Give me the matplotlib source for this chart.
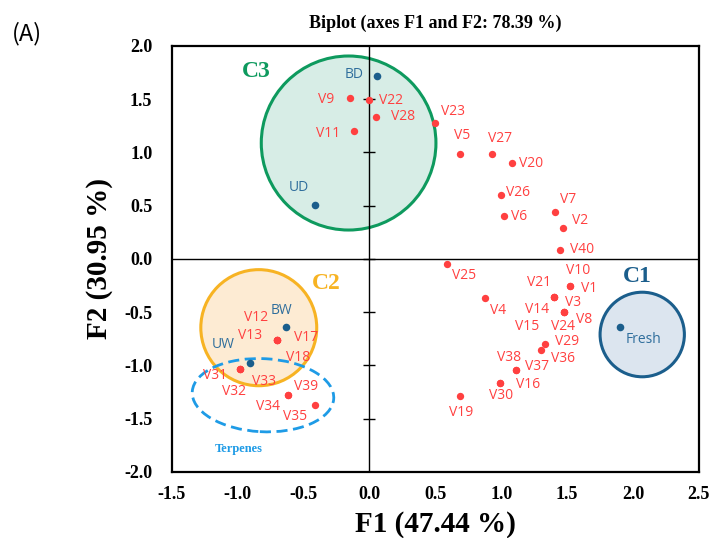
import matplotlib
matplotlib.use('Agg')
import matplotlib.pyplot as plt
from matplotlib.patches import Ellipse

# variables (red) and observations (blue) on F1/F2
var_names = ['V1', 'V2', 'V3', 'V4', 'V5', 'V6', 'V7', 'V8', 'V9', 'V10',
             'V11', 'V12', 'V13', 'V14', 'V15', 'V16', 'V17', 'V18', 'V19', 'V20',
             'V21', 'V22', 'V23', 'V24', 'V25', 'V26', 'V27', 'V28', 'V29', 'V30',
             'V31', 'V32', 'V33', 'V34', 'V35', 'V36', 'V37', 'V38', 'V39', 'V40']
var_f1 = [1.52, 1.47, 1.48, 0.88, 0.69, 1.02, 1.41, 1.48, -0.15, 1.52,
          -0.12, -0.70, -0.70, 1.40, 1.40, 0.99, -0.70, -0.70, 0.69, 1.08,
          1.40, 0.00, 0.50, 1.48, 0.59, 1.00, 0.93, 0.05, 1.33, 0.99,
          -0.98, -0.98, -0.98, -0.62, -0.41, 1.30, 1.11, 1.11, -0.62, 1.45]
var_f2 = [-0.25, 0.29, -0.50, -0.37, 0.99, 0.40, 0.44, -0.50, 1.51, -0.25,
          1.20, -0.76, -0.76, -0.36, -0.36, -1.16, -0.76, -0.76, -1.29, 0.90,
          -0.36, 1.49, 1.28, -0.50, -0.05, 0.60, 0.99, 1.33, -0.80, -1.16,
          -1.03, -1.03, -1.03, -1.28, -1.37, -0.85, -1.04, -1.04, -1.28, 0.08]

obs_names = ['BD', 'UD', 'BW', 'UW', 'Fresh']
obs_f1 = [0.06, -0.41, -0.63, -0.91, 1.90]
obs_f2 = [1.72, 0.51, -0.64, -0.98, -0.64]

xticks = [-1.5, -1.0, -0.5, 0.0, 0.5, 1.0, 1.5, 2.0, 2.5]
yticks = [-2.0, -1.5, -1.0, -0.5, 0.0, 0.5, 1.0, 1.5, 2.0]

# label placement: (dx, dy, ha) in pixels, dy downwards
lab_pos = {
    'V1': (11, 3, 'left'), 'V2': (9, -8, 'left'), 'V3': (1, -10, 'left'),
    'V4': (5, 12, 'left'), 'V5': (2, -18, 'center'), 'V6': (7, 0, 'left'),
    'V7': (5, -13, 'left'), 'V8': (12, 7, 'left'), 'V9': (-15, 1, 'right'),
    'V10': (-4, -15, 'left'), 'V11': (-13, 2, 'right'), 'V12': (-9, -22, 'right'),
    'V13': (-15, -4, 'right'), 'V14': (-5, 12, 'right'), 'V15': (-15, 29, 'right'),
    'V16': (16, 2, 'left'), 'V17': (17, -2, 'left'), 'V18': (9, 18, 'left'),
    'V19': (1, 16, 'center'), 'V20': (7, 0, 'left'), 'V21': (-3, -15, 'right'),
    'V22': (10, 0, 'left'), 'V23': (6, -11, 'left'), 'V24': (-1, 14, 'center'),
    'V25': (5, 11, 'left'), 'V26': (5, -3, 'left'), 'V27': (8, -15, 'center'),
    'V28': (15, -1, 'left'), 'V29': (10, -3, 'left'), 'V30': (1, 13, 'center'),
    'V31': (-13, 7, 'right'), 'V32': (-6, 23, 'center'), 'V33': (12, 13, 'left'),
    'V34': (-8, 11, 'right'), 'V35': (-8, 12, 'right'), 'V36': (10, 9, 'left'),
    'V37': (9, -3, 'left'), 'V38': (5, -12, 'right'), 'V39': (6, -9, 'left'),
    'V40': (10, -1, 'left'),
    'BD': (-14, -1, 'right'), 'UD': (-17, -17, 'center'), 'BW': (-5, -17, 'center'),
    'UW': (-15, -19, 'right'), 'Fresh': (6, 12, 'left'),
}

red = '#FF4040'
navy = '#1B5E8C'
serif = 'Liberation Serif'

fig = plt.figure(figsize=(7.13, 5.38), dpi=100)
ax = fig.add_axes([0.241, 0.1227, 0.739, 0.7918])

# clusters
ax.add_patch(Ellipse((-0.158, 1.089), 1.326, 1.634, facecolor='#D7EDE6',
                     edgecolor='#0E9A5E', lw=2.2, zorder=1))
ax.add_patch(Ellipse((-0.84, -0.645), 0.88, 1.09, facecolor='#FDEBD3',
                     edgecolor='#F7B323', lw=2.2, zorder=1))
ax.add_patch(Ellipse((2.071, -0.709), 0.64, 0.794, facecolor='#DCE5EF',
                     edgecolor=navy, lw=2.2, zorder=1))
ax.add_patch(Ellipse((-0.808, -1.279), 1.076, 0.686, angle=-4, facecolor='none',
                     edgecolor='#1E9BE6', lw=2.0, ls=(0, (4, 2)), zorder=4))

ax.axhline(0, color='black', lw=1.0, zorder=2)
ax.axvline(0, color='black', lw=1.0, zorder=2)
ax.plot([0] * len(yticks[1:-1]), yticks[1:-1], ls='none', marker='_',
        markersize=8, markeredgewidth=1.0, color='black', zorder=2)

ax.scatter(var_f1, var_f2, s=28, color=red, zorder=5, linewidths=0)
ax.scatter(obs_f1, obs_f2, s=30, color=navy, zorder=5, linewidths=0)

for n, x, y in zip(var_names, var_f1, var_f2):
    dx, dy, ha = lab_pos[n]
    ax.annotate(n, (x, y), xytext=(dx, -dy), textcoords='offset pixels',
                ha=ha, va='center', color=red, fontsize=10, family='Open Sans',
                zorder=6)
for n, x, y in zip(obs_names, obs_f1, obs_f2):
    dx, dy, ha = lab_pos[n]
    ax.annotate(n, (x, y), xytext=(dx, -dy), textcoords='offset pixels',
                ha=ha, va='center', color='#2F6E9C', fontsize=10, family='Open Sans',
                zorder=6)

ax.text(-0.858, 1.76, 'C3', color='#0E9A5E', fontsize=17, fontweight='bold',
        family=serif, ha='center', va='center')
ax.text(-0.331, -0.228, 'C2', color='#F7B323', fontsize=17, fontweight='bold',
        family=serif, ha='center', va='center')
ax.text(2.03, -0.16, 'C1', color=navy, fontsize=17, fontweight='bold',
        family=serif, ha='center', va='center')
ax.text(-0.992, -1.784, 'Terpenes', color='#1E9BE6', fontsize=9, fontweight='bold',
        family=serif, ha='center', va='center')

ax.set_xlim(-1.5, 2.5)
ax.set_ylim(-2.0, 2.0)
ax.set_xticks(xticks)
ax.set_yticks(yticks)
ax.set_xticklabels(['%.1f' % v for v in xticks], family=serif, fontweight='bold', fontsize=13)
ax.set_yticklabels(['%.1f' % v for v in yticks], family=serif, fontweight='bold', fontsize=13)
ax.tick_params(axis='x', length=0, pad=10)
ax.tick_params(axis='y', length=0, pad=14)
for s in ax.spines.values():
    s.set_linewidth(1.6)

ax.set_xlabel('F1 (47.44 %)', family=serif, fontweight='bold', fontsize=21, labelpad=6)
ax.set_ylabel('F2 (30.95 %)', family=serif, fontweight='bold', fontsize=21, labelpad=8)
ax.set_title('Biplot (axes F1 and F2: 78.39 %)', family=serif, fontweight='bold',
             fontsize=13, pad=13)
fig.text(0.017, 0.938, '(A)', fontsize=17, family='Noto Sans CJK KR', va='center')

fig.savefig('out.png', dpi=100)
